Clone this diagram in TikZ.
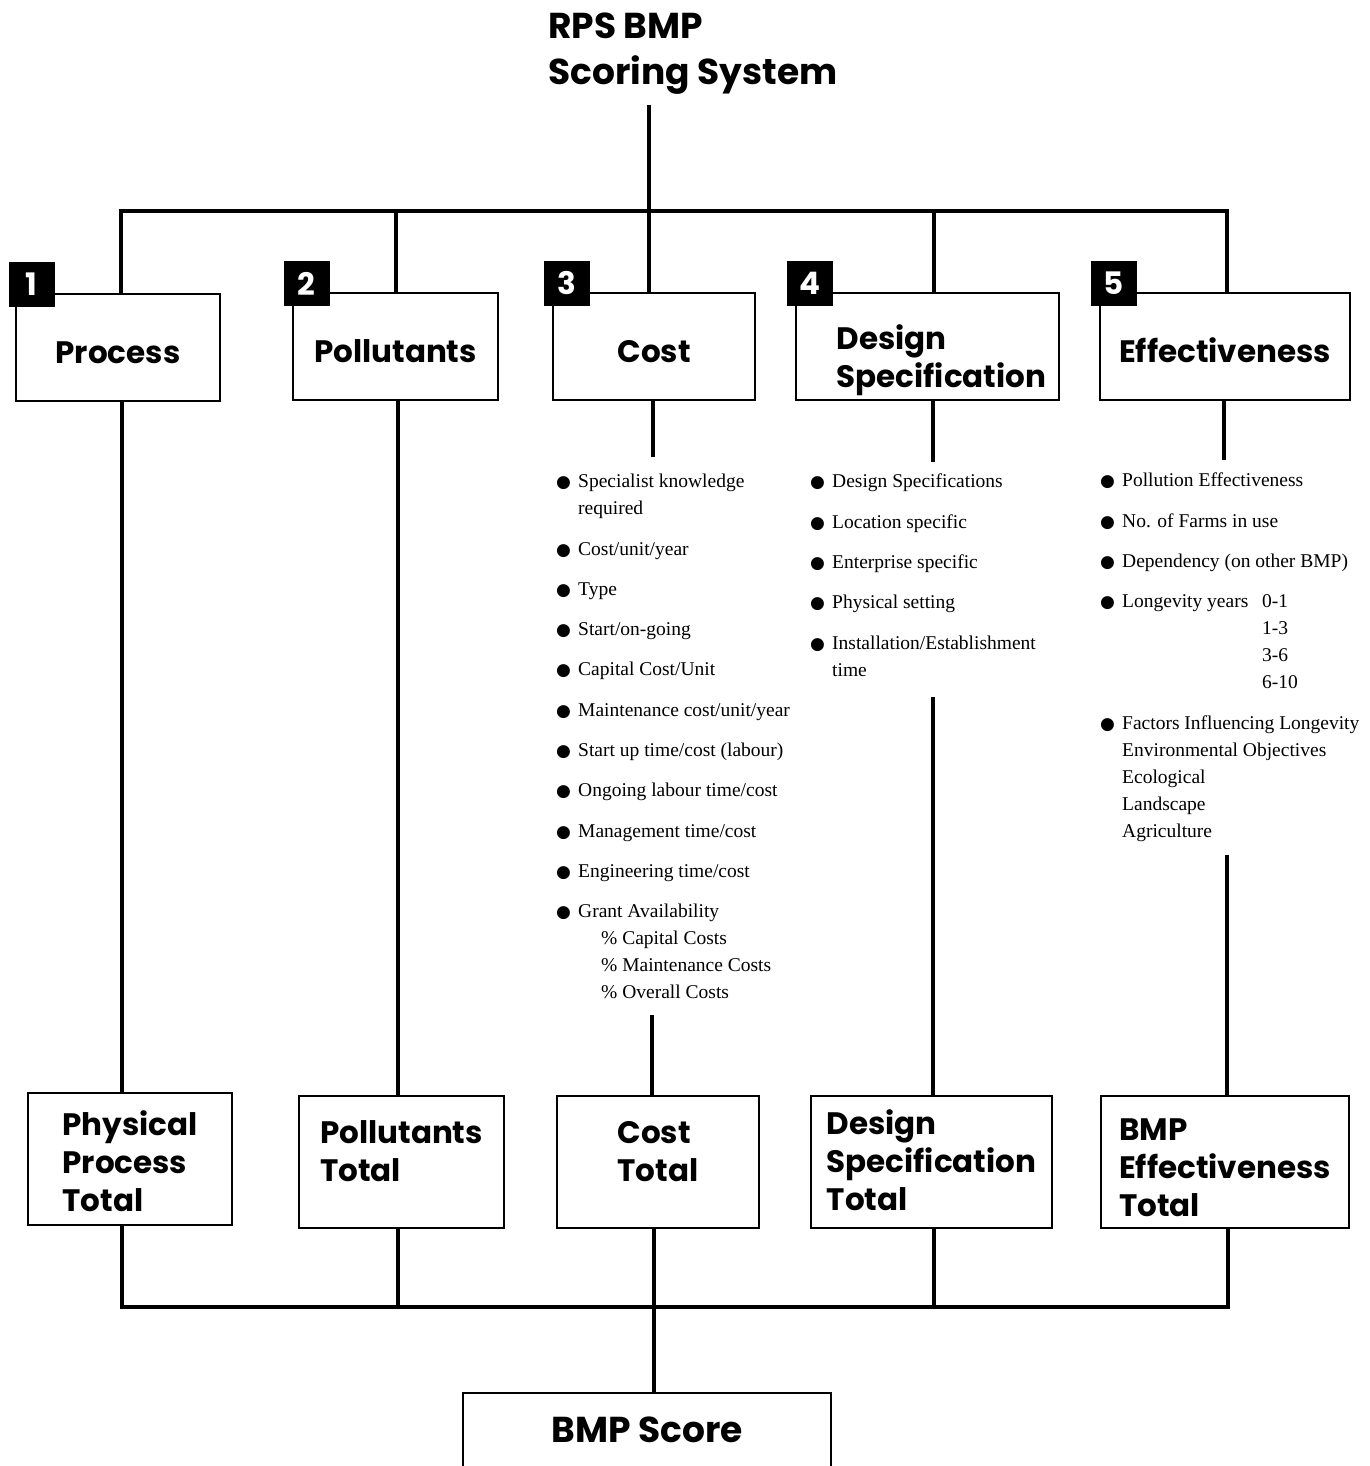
\documentclass[tikz,border=0pt]{standalone}
\usepackage{fontspec}
\setmainfont{Liberation Serif}
\setsansfont{Poppins}
\newfontfamily\symfont{DejaVu Sans}

\newcommand{\blt}{\makebox[22pt][l]{\symfont\fontsize{17}{17}\selectfont ●}}
\newcommand{\ind}{\hspace*{22pt}}

\begin{document}
\begin{tikzpicture}[
  x=1pt, y=-1pt,
  heading/.style={font=\sffamily\bfseries\fontsize{31}{38}\selectfont},
  bighead/.style={font=\sffamily\bfseries\fontsize{36}{46}\selectfont},
  catbox/.style={rectangle, draw, line width=2pt, heading, align=left,
                 minimum height=107pt, inner sep=0pt, text height=32pt, text depth=0pt},
  totalbox/.style={rectangle, draw, line width=2pt, heading, align=left,
                   minimum height=132pt, inner sep=0pt, text depth=0pt},
  badge/.style={rectangle, fill=black, text=white, heading,
                minimum width=46pt, minimum height=45pt, inner sep=0pt},
  itemlist/.style={anchor=north west, align=left, inner sep=0pt,
                   font=\fontsize{19.5}{27}\selectfont},
  link/.style={line width=3.5pt}
]
  \useasboundingbox (0,0) rectangle (1369,1466);

  \node[bighead, align=left, anchor=north west, inner sep=0pt] (title) at (548,13)
    {RPS BMP\\Scoring System};

  \node[catbox, minimum width=204pt] (proc) at (118,347.5) {Process};
  \node[catbox, minimum width=205pt] (poll) at (395.5,346.5) {Pollutants};
  \node[catbox, minimum width=202pt] (cost) at (654,346.5) {Cost};
  \node[catbox, minimum width=263pt, text height=82pt] (des) at (927.5,346.5)
    {\hspace*{28pt}Design\\\hspace*{28pt}Specification};
  \node[catbox, minimum width=250pt] (eff) at (1225,346.5) {Effectiveness};

  \node[badge] (n1) at ([xshift=16.5pt, yshift=8.5pt]proc.north west) {1};
  \node[badge] (n2) at ([xshift=14.5pt, yshift=8.5pt]poll.north west) {2};
  \node[badge] (n3) at ([xshift=15pt, yshift=8.5pt]cost.north west) {3};
  \node[badge] (n4) at ([xshift=15pt, yshift=8.5pt]des.north west) {4};
  \node[badge] (n5) at ([xshift=14.5pt, yshift=8.5pt]eff.north west) {5};

  \node[itemlist] (costlist) at (556,474) {%
    \blt Specialist knowledge\\
    \ind required\\[13.3pt]
    \blt Cost/unit/year\\[13.3pt]
    \blt Type\\[13.3pt]
    \blt Start/on-going\\[13.3pt]
    \blt Capital Cost/Unit\\[13.3pt]
    \blt Maintenance cost/unit/year\\[13.3pt]
    \blt Start up time/cost (labour)\\[13.3pt]
    \blt Ongoing labour time/cost\\[13.3pt]
    \blt Management time/cost\\[13.3pt]
    \blt Engineering time/cost\\[13.3pt]
    \blt Grant Availability\\
    \ind\hspace*{23pt}\% Capital Costs\\
    \ind\hspace*{23pt}\% Maintenance Costs\\
    \ind\hspace*{23pt}\% Overall Costs};
  \node[itemlist] (deslist) at (810,474) {%
    \blt Design Specifications\\[13.3pt]
    \blt Location specific\\[13.3pt]
    \blt Enterprise specific\\[13.3pt]
    \blt Physical setting\\[13.3pt]
    \blt Installation/Establishment\\
    \ind time};
  \node[itemlist] (efflist) at (1100,473) {%
    \blt Pollution Effectiveness\\[13.3pt]
    \blt No. of Farms in use\\[13.3pt]
    \blt Dependency (on other BMP)\\[13.3pt]
    \blt \makebox[140pt][l]{Longevity years}0-1\\
    \ind\hspace*{140pt}1-3\\
    \ind\hspace*{140pt}3-6\\
    \ind\hspace*{140pt}6-10\\[13.3pt]
    \blt Factors Influencing Longevity\\
    \ind Environmental Objectives\\
    \ind Ecological\\
    \ind Landscape\\
    \ind Agriculture};

  \node[totalbox, minimum width=204pt, text height=104pt] (phys) at (130,1159)
    {Physical\\Process\\Total};
  \node[totalbox, minimum width=205pt, text height=39pt] (polltot) at (401.5,1162)
    {Pollutants\\Total};
  \node[totalbox, minimum width=202pt, text height=39pt] (costtot) at (658,1162)
    {Cost\\Total};
  \node[totalbox, minimum width=241pt, text height=96pt] (destot) at (931.5,1162)
    {Design\\Specification\\Total};
  \node[totalbox, minimum width=248pt, text height=108pt] (efftot) at (1225,1162)
    {BMP\\Effectiveness\\Total};

  \node[rectangle, draw, line width=2pt, bighead, minimum width=368pt,
        minimum height=74pt] (score) at (647,1430) {BMP Score};

  \coordinate (t0) at (649,105);
  \coordinate (tb1) at (121,211);
  \coordinate (tb2) at (396,211);
  \coordinate (tb3) at (649,211);
  \coordinate (tb4) at (934,211);
  \coordinate (tb5) at (1227,211);
  \coordinate (bb1) at (122,1307);
  \coordinate (bb2) at (398,1307);
  \coordinate (bb3) at (654,1307);
  \coordinate (bb4) at (934,1307);
  \coordinate (bb5) at (1228,1307);
  \coordinate (c3a) at (653,457);
  \coordinate (c3b) at (652,1015);
  \coordinate (c4a) at (933,462);
  \coordinate (c4b) at (933,697);
  \coordinate (c5a) at (1224,460);
  \coordinate (c5b) at (1227,855);

  \draw[link] (t0) -- (tb3 |- cost.north);
  \draw[link] (tb1 |- proc.north) -- (tb1) -- (tb5) -- (tb5 |- eff.north);
  \draw[link] (tb2) -- (tb2 |- poll.north);
  \draw[link] (tb4) -- (tb4 |- des.north);

  \draw[link] (bb1 |- proc.south) -- (bb1 |- phys.north);
  \draw[link] (bb2 |- poll.south) -- (bb2 |- polltot.north);
  \draw[link] (c3a |- cost.south) -- (c3a);
  \draw[link] (c3b) -- (c3b |- costtot.north);
  \draw[link] (c4a |- des.south) -- (c4a);
  \draw[link] (c4b) -- (c4b |- destot.north);
  \draw[link] (c5a |- eff.south) -- (c5a);
  \draw[link] (c5b) -- (c5b |- efftot.north);

  \draw[link] (bb1 |- phys.south) -- (bb1) -- (bb5) -- (bb5 |- efftot.south);
  \draw[link] (bb2 |- polltot.south) -- (bb2);
  \draw[link] (bb3 |- costtot.south) -- (bb3) -- (bb3 |- score.north);
  \draw[link] (bb4 |- destot.south) -- (bb4);
\end{tikzpicture}
\end{document}
